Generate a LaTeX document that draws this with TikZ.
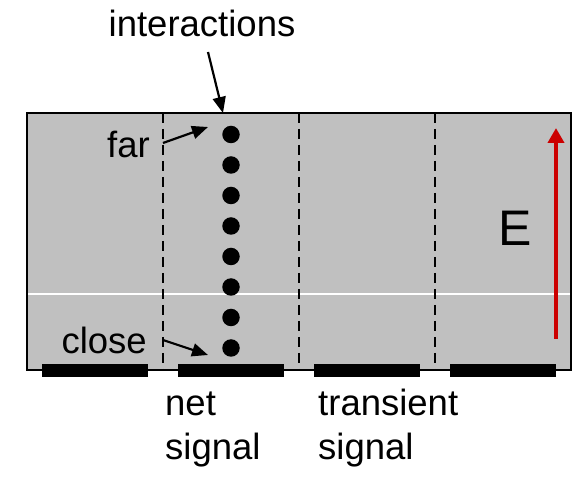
\documentclass[tikz,border=0pt]{standalone}
\usepackage{fontspec}
\setmainfont{Liberation Sans}
\usetikzlibrary{arrows.meta}
\definecolor{boxgray}{HTML}{C0C0C0}
\definecolor{efield}{HTML}{CC0000}
\begin{document}
\begin{tikzpicture}[x=1pt,y=-1pt,
  lbl/.style={inner sep=0pt,font=\fontsize{36.5}{44}\selectfont},
  dotnode/.style={circle,fill=black,inner sep=0pt,minimum size=17.5pt},
  padbar/.style={fill=black},
  divider/.style={line width=2.3pt,dash pattern=on 10pt off 6pt},
  ptr/.style={line width=2.2pt,-{Triangle[length=16pt,width=13pt]}}]
\useasboundingbox (0,0) rectangle (574,478);
% box
\fill[boxgray] (27,113) rectangle (571,370);
\draw[white,line width=1.2pt] (27,294) -- (571,294);
\foreach \x in {163,299,435}
  \draw[divider] (\x,113) -- (\x,370);
\draw[line width=2.5pt] (27,113) rectangle (571,370);
% pads
\foreach \a/\b in {42/148,178/284,314/420,450/556}
  \fill[padbar] (\a,364) rectangle (\b,377);
% dots
\foreach \i in {0,...,7}
  \node[dotnode] (d\i) at (231,{134.5+\i*30.5}) {};
% labels
\node[lbl,anchor=base] (inter) at (202,37) {interactions};
\node[lbl,anchor=base east] (far) at (150,158) {far};
\node[lbl,anchor=base east] (close) at (147,354) {close};
\node[lbl,anchor=base west,font=\fontsize{50}{60}\selectfont] (E) at (498,246) {E};
\node[lbl,anchor=base west,align=left] (net) at (165,460) {net\\signal};
\node[lbl,anchor=base west,align=left] (trans) at (318,460) {transient\\signal};
% arrows
\coordinate (intA) at (208,52);
\coordinate (intB) at (223,113);
\draw[ptr] (intA) -- (intB);
\coordinate (farA) at (163,143);
\coordinate (farB) at (208,127);
\draw[ptr] (farA) -- (farB);
\coordinate (closeA) at (163,340);
\coordinate (closeB) at (208,355);
\draw[ptr] (closeA) -- (closeB);
\coordinate (eA) at (556,339);
\coordinate (eB) at (556,128);
\draw[efield,line width=4pt,-{Triangle[length=15pt,width=16pt]}] (eA) -- (eB);
\end{tikzpicture}
\end{document}
